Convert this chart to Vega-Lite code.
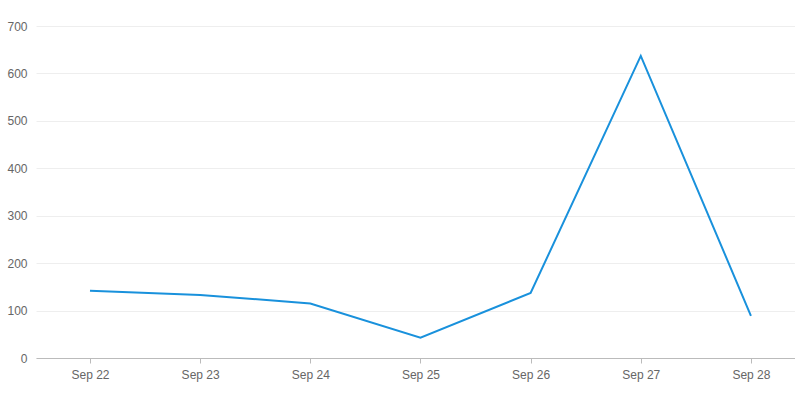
{
  "$schema": "https://vega.github.io/schema/vega-lite/v6.json",
  "width": 759,
  "height": 332,
  "autosize": {"type": "none"},
  "padding": {"left": 36, "top": 26, "right": 0, "bottom": 39},
  "background": "white",
  "config": {"view": {"stroke": null}, "font": "Liberation Sans"},
  "data": {
    "values": [
      {"date": "2023-09-22", "value": 142},
      {"date": "2023-09-23", "value": 133},
      {"date": "2023-09-24", "value": 115},
      {"date": "2023-09-25", "value": 43},
      {"date": "2023-09-26", "value": 137},
      {"date": "2023-09-27", "value": 637},
      {"date": "2023-09-28", "value": 89}
    ]
  },
  "mark": {"type": "line", "color": "#1991dc", "strokeWidth": 2},
  "encoding": {
    "x": {
      "field": "date",
      "type": "temporal",
      "scale": {
        "type": "utc",
        "domain": [1695298464000, 1695893760000],
        "nice": false
      },
      "axis": {
        "title": null,
        "labelExpr": "utcFormat(datum.value, '%b %d')",
        "tickCount": {"interval": "day", "step": 1},
        "grid": false,
        "domainColor": "#bbbbbb",
        "tickColor": "#bbbbbb",
        "tickSize": 5,
        "labelColor": "#666666",
        "labelFontSize": 12,
        "labelPadding": 6,
        "labelFlush": false
      }
    },
    "y": {
      "field": "value",
      "type": "quantitative",
      "scale": {"domain": [0, 700], "nice": false},
      "axis": {
        "title": null,
        "values": [0, 100, 200, 300, 400, 500, 600, 700],
        "domain": false,
        "ticks": false,
        "gridColor": "#eeeeee",
        "labelColor": "#666666",
        "labelFontSize": 12,
        "labelPadding": 9
      }
    }
  }
}
